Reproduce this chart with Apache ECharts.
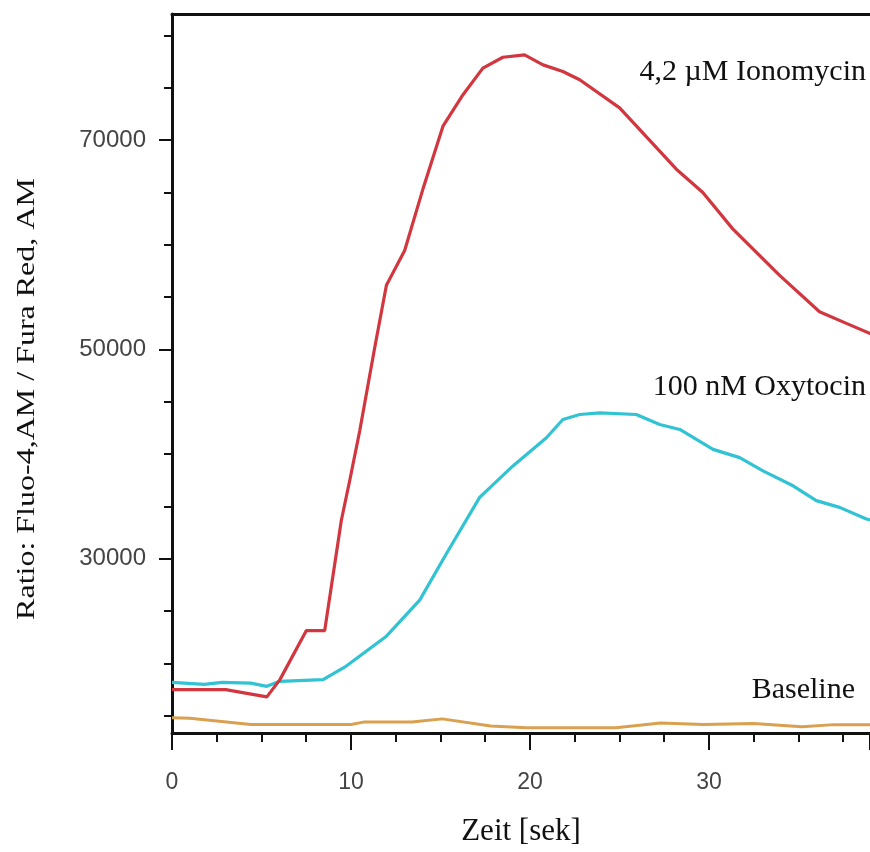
<!DOCTYPE html>
<html>
<head>
<meta charset="utf-8">
<script src="https://cdn.jsdelivr.net/npm/echarts@6/dist/echarts.min.js"></script>
<style>html,body{margin:0;padding:0;background:#fff;}#c{width:870px;height:852px;}</style>
</head>
<body>
<div id="c"></div>
<script>
// ---- data (time in s, ratio values) ----
const ionoTime  = [0, 3, 5.3, 6.03, 7.5, 8.53, 9.46, 9.93, 10.49, 11.32, 11.98, 13.0, 14.02, 15.14, 16.26, 17.37, 18.49, 19.7, 20.73, 21.84, 22.78, 25.01, 28.18, 29.66, 31.33, 33.95, 36.18, 37.68, 38.98, 40];
const ionoValue = [17500, 17500, 16800, 18450, 23130, 23130, 33650, 37480, 42230, 50110, 56130, 59450, 65320, 71330, 74340, 76880, 77920, 78140, 77190, 76560, 75770, 73080, 67220, 65000, 61520, 57080, 53600, 52490, 51540, 50800];

const oxyTime  = [0, 1.8, 2.8, 4.4, 5.3, 6.02, 8.44, 9.74, 11.98, 13.84, 15.33, 17.19, 19.05, 20.92, 21.84, 22.78, 23.9, 25.94, 27.25, 28.37, 30.23, 31.72, 33.02, 34.7, 36.0, 37.3, 38.8, 40];
const oxyValue = [18180, 17990, 18180, 18120, 17810, 18290, 18450, 19750, 22600, 26050, 30480, 35860, 38870, 41560, 43300, 43780, 43940, 43780, 42830, 42350, 40450, 39660, 38400, 36970, 35550, 34910, 33800, 33300];

const baseTime  = [0, 1, 4.4, 10, 10.7, 13.4, 15.1, 17.8, 19.8, 24.8, 27.3, 29.7, 32.5, 35.2, 37, 40];
const baseValue = [14800, 14750, 14170, 14170, 14390, 14390, 14700, 14010, 13850, 13850, 14300, 14170, 14250, 13950, 14150, 14150];

const xLabelValues = [0, 10, 20, 30];
const yLabelValues = [30000, 50000, 70000];
const yMinorValues = [15000, 20000, 25000, 35000, 40000, 45000, 55000, 60000, 65000, 75000, 80000];

const seriesNames = ['4,2 µM Ionomycin', '100 nM Oxytocin', 'Baseline'];
// -----------------------------------------

const zip = (t, v) => t.map((x, i) => [x, v[i]]);
const chart = echarts.init(document.getElementById('c'), null, {renderer: 'canvas'});
const serif = '"Liberation Serif", "DejaVu Serif", serif';
const sans = '"Liberation Sans", Arial, sans-serif';
const black = '#111';

chart.setOption({
  animation: false,
  backgroundColor: '#fff',
  grid: {left: 172, top: 14, bottom: 115, right: 0, show: false, containLabel: false},
  xAxis: [{
    type: 'value', min: 0, max: 39, interval: 10,
    name: 'Zeit [sek]', nameLocation: 'middle', nameGap: 83,
    nameTextStyle: {fontFamily: serif, fontSize: 31, color: black},
    axisLine: {show: true, onZero: false, lineStyle: {color: black, width: 3}},
    axisTick: {show: true, length: 17, lineStyle: {color: black, width: 2}},
    minorTick: {show: true, splitNumber: 4, length: 9, lineStyle: {color: black, width: 2}},
    axisLabel: {customValues: xLabelValues, margin: 38, fontFamily: sans, fontSize: 23, color: '#444'},
    splitLine: {show: false}
  }, {
    type: 'value', min: 0, max: 39, position: 'top',
    axisLine: {show: true, onZero: false, lineStyle: {color: black, width: 3}},
    axisTick: {show: false}, axisLabel: {show: false}, splitLine: {show: false}
  }],
  yAxis: [{
    type: 'value', min: 13350, max: 82050,
    axisLine: {show: true, onZero: false, lineStyle: {color: black, width: 3}},
    axisTick: {show: true, customValues: yLabelValues, length: 13, lineStyle: {color: black, width: 2}},
    axisLabel: {customValues: yLabelValues, margin: 26, fontFamily: sans, fontSize: 24, color: '#444', formatter: v => String(v)},
    splitLine: {show: false}
  }, {
    type: 'value', min: 13350, max: 82050, position: 'left',
    axisLine: {show: false},
    axisTick: {show: true, customValues: yMinorValues, length: 8, lineStyle: {color: black, width: 2}},
    axisLabel: {show: false},
    splitLine: {show: false}
  }],
  series: [
    {name: seriesNames[2], type: 'line', data: zip(baseTime, baseValue), showSymbol: false, lineStyle: {color: '#d9a050', width: 3}, z: 3},
    {name: seriesNames[1], type: 'line', data: zip(oxyTime, oxyValue), showSymbol: false, lineStyle: {color: '#31c3d3', width: 3.2}, z: 4},
    {name: seriesNames[0], type: 'line', data: zip(ionoTime, ionoValue), showSymbol: false, lineStyle: {color: '#d2363f', width: 3.2}, z: 5}
  ],
  graphic: [
    {type: 'text', right: 4, top: 57, style: {text: seriesNames[0], font: '30px ' + serif, fill: black}},
    {type: 'text', right: 4, top: 372, style: {text: seriesNames[1], font: '30px ' + serif, fill: black}},
    {type: 'text', right: 15, top: 675, style: {text: seriesNames[2], font: '30px ' + serif, fill: black}},
    {type: 'text', x: 15, y: 399, rotation: Math.PI / 2, scaleX: 1.28,
     style: {text: 'Ratio: Fluo-4,AM / Fura Red, AM', font: '25px ' + serif, fill: black, align: 'center', verticalAlign: 'top'}}
  ]
});
</script>
</body>
</html>
